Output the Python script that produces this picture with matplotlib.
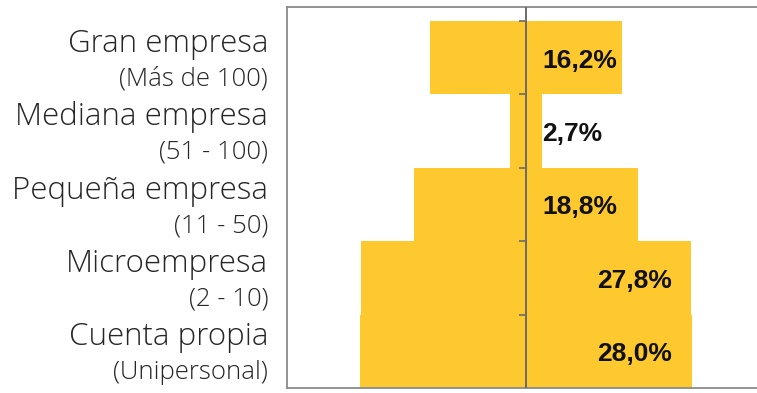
import matplotlib.pyplot as plt

# company size categories, listed top to bottom
categories = ["Gran empresa", "Mediana empresa", "Pequeña empresa",
              "Microempresa", "Cuenta propia"]
subtitles = ["(Más de 100)", "(51 - 100)", "(11 - 50)", "(2 - 10)",
             "(Unipersonal)"]
shares = [16.2, 2.7, 18.8, 27.8, 28.0]
value_labels = ["16,2%", "2,7%", "18,8%", "27,8%", "28,0%"]

BAR_COLOR = "#FDC92F"
SPINE_COLOR = "#8a8a8a"
TEXT_COLOR = "#262626"

fig = plt.figure(figsize=(7.57, 3.93), dpi=100)
ax = fig.add_axes([0.3791, 0.0127, 0.6209, 0.9695])

n = len(categories)
ypos = [n - 1 - i for i in range(n)]

# symmetric bars around zero, pyramid style
ax.barh(ypos, [2 * v for v in shares], left=[-v for v in shares],
        height=1.0, color=BAR_COLOR, edgecolor="none", zorder=1)

ax.set_xlim(-40.24, 38.89)
ax.set_ylim(-0.5, 4.69)

# central axis with small ticks at the row boundaries
ax.axvline(0, color="#6b6b6b", lw=1.4, zorder=3)
for y in ypos:
    ax.plot([-1.25, 0], [y + 0.5, y + 0.5], color="#6b6b6b", lw=1.2,
            solid_capstyle="butt", zorder=3)

for side in ("left", "top", "bottom"):
    ax.spines[side].set_color(SPINE_COLOR)
    ax.spines[side].set_linewidth(1.3)
ax.spines["right"].set_visible(False)
ax.set_xticks([])
ax.set_yticks([])

# row labels at the left, two lines each
ytrans = ax.get_yaxis_transform()
for y, name, sub in zip(ypos, categories, subtitles):
    ax.text(-0.040, y + 0.08, name, transform=ytrans, ha="right",
            va="baseline", fontsize=22.5, family="Open Sans",
            fontweight="light", color=TEXT_COLOR)
    ax.text(-0.040, y - 0.38, sub, transform=ytrans, ha="right",
            va="baseline", fontsize=18.5, family="Open Sans",
            fontweight="light", color=TEXT_COLOR)

# percentage labels
for y, v, lab in zip(ypos, shares, value_labels):
    if v < 20:
        ax.text(2.7, y - 0.04, lab, ha="left", va="center", fontsize=19,
                family="Liberation Sans", fontweight="bold", color="#111111",
                zorder=4)
    else:
        ax.text(24.6, y - 0.04, lab, ha="right", va="center", fontsize=19,
                family="Liberation Sans", fontweight="bold", color="#111111",
                zorder=4)

fig.savefig("out.png", dpi=100)
